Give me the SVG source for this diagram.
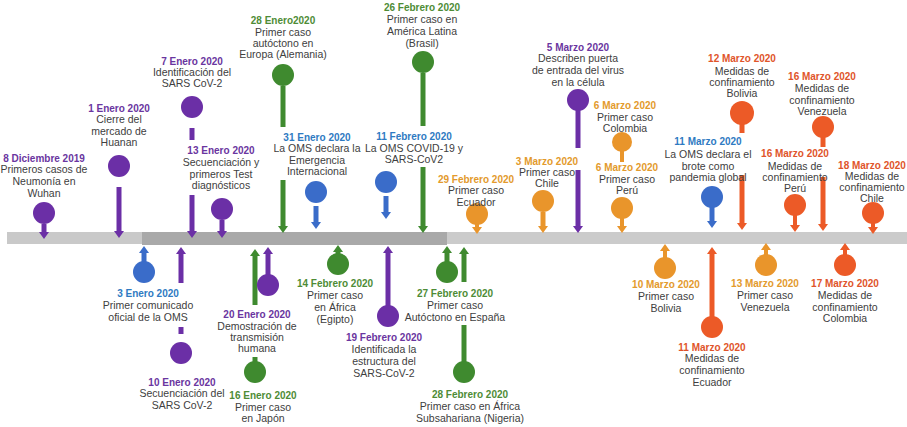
<svg xmlns="http://www.w3.org/2000/svg" width="907" height="427" viewBox="0 0 907 427">
<style>
.t{font-family:"Liberation Sans",Arial,sans-serif;font-size:10.5px;fill:#404040;text-anchor:middle}
.h{font-weight:bold;font-size:10px}
.hp{fill:#6a35a0}.hg{fill:#4e8c36}.hb{fill:#2e7ac2}.ho{fill:#e39a2c}.hr{fill:#e0542a}
.cp{fill:#6b2fa6}.cg{fill:#3f8a2f}.cb{fill:#3a6cc9}.co{fill:#e9952b}.cr{fill:#ec5a27}
.l{stroke-width:5;fill:none}.s{stroke-width:4}
.lp{stroke:#6b2fa6}.lg{stroke:#3f8a2f}.lb{stroke:#3a6cc9}.lo{stroke:#e9952b}.lr{stroke:#ec5a27}
</style>
<defs>
<marker id="mp" viewBox="0 0 7 10" markerWidth="7" markerHeight="10" refX="0" refY="5" orient="auto" markerUnits="userSpaceOnUse"><path d="M0,0L7,5L0,10z" fill="#6b2fa6"/></marker>
<marker id="mg" viewBox="0 0 7 10" markerWidth="7" markerHeight="10" refX="0" refY="5" orient="auto" markerUnits="userSpaceOnUse"><path d="M0,0L7,5L0,10z" fill="#3f8a2f"/></marker>
<marker id="mb" viewBox="0 0 7 10" markerWidth="7" markerHeight="10" refX="0" refY="5" orient="auto" markerUnits="userSpaceOnUse"><path d="M0,0L7,5L0,10z" fill="#3a6cc9"/></marker>
<marker id="mo" viewBox="0 0 7 10" markerWidth="7" markerHeight="10" refX="0" refY="5" orient="auto" markerUnits="userSpaceOnUse"><path d="M0,0L7,5L0,10z" fill="#e9952b"/></marker>
<marker id="mr" viewBox="0 0 7 10" markerWidth="7" markerHeight="10" refX="0" refY="5" orient="auto" markerUnits="userSpaceOnUse"><path d="M0,0L7,5L0,10z" fill="#ec5a27"/></marker>
</defs>
<rect width="907" height="427" fill="#ffffff"/>
<g id="timeline">
<rect x="7" y="232" width="135" height="12" fill="#c9c9c9"/>
<rect x="142" y="232" width="305" height="13" fill="#a9a9a9"/>
<rect x="447" y="232" width="460" height="12" fill="#cbcbcb"/>
</g>
<g id="connectors">
<line class="l lp" x1="44" y1="224" x2="44" y2="232" marker-end="url(#mp)"/>
<line class="l lp" x1="119" y1="187" x2="119" y2="231" marker-end="url(#mp)"/>
<line class="l lp" x1="192" y1="128" x2="192" y2="140"/>
<line class="l lp" x1="192" y1="195" x2="192" y2="231" marker-end="url(#mp)"/>
<line class="l lp" x1="222" y1="220" x2="222" y2="231" marker-end="url(#mp)"/>
<line class="l lg" x1="283" y1="86" x2="283" y2="127"/>
<line class="l lg" x1="283" y1="180" x2="283" y2="226" marker-end="url(#mg)"/>
<line class="l lb" x1="316" y1="206" x2="316" y2="222" marker-end="url(#mb)"/>
<line class="l lg" x1="423" y1="73" x2="423" y2="126"/>
<line class="l lg" x1="423" y1="167" x2="423" y2="226" marker-end="url(#mg)"/>
<line class="l lb" x1="386" y1="196" x2="386" y2="212" marker-end="url(#mb)"/>
<line class="l s lo" x1="477" y1="224" x2="477" y2="227" marker-end="url(#mo)"/>
<line class="l lo" x1="543" y1="212" x2="543" y2="226" marker-end="url(#mo)"/>
<line class="l lp" x1="578" y1="110" x2="578" y2="148"/>
<line class="l lp" x1="578" y1="170" x2="578" y2="226" marker-end="url(#mp)"/>
<line class="l s lo" x1="622" y1="150" x2="622" y2="162"/>
<line class="l s lo" x1="622" y1="218" x2="622" y2="226" marker-end="url(#mo)"/>
<line class="l lb" x1="712" y1="207" x2="712" y2="221" marker-end="url(#mb)"/>
<line class="l lr" x1="742" y1="124" x2="742" y2="133"/>
<line class="l lr" x1="742" y1="175" x2="742" y2="223" marker-end="url(#mr)"/>
<line class="l lr" x1="823" y1="137" x2="823" y2="147"/>
<line class="l lr" x1="823" y1="177" x2="823" y2="224" marker-end="url(#mr)"/>
<line class="l s lr" x1="795" y1="215" x2="795" y2="225" marker-end="url(#mr)"/>
<line class="l s lr" x1="873" y1="223" x2="873" y2="227" marker-end="url(#mr)"/>
<line class="l lb" x1="144" y1="262" x2="144" y2="253" marker-end="url(#mb)"/>
<line class="l lp" x1="181" y1="283" x2="181" y2="254" marker-end="url(#mp)"/>
<line class="l lp" x1="181" y1="327" x2="181" y2="334"/>
<line class="l lp" x1="268" y1="275" x2="268" y2="254" marker-end="url(#mp)"/>
<line class="l lg" x1="255" y1="305" x2="255" y2="256" marker-end="url(#mg)"/>
<line class="l lg" x1="255" y1="357" x2="255" y2="363"/>
<line class="l lg" x1="338" y1="254" x2="338" y2="252" marker-end="url(#mg)"/>
<line class="l lp" x1="388" y1="306" x2="388" y2="253" marker-end="url(#mp)"/>
<line class="l lg" x1="447" y1="262" x2="447" y2="253" marker-end="url(#mg)"/>
<line class="l lg" x1="464" y1="282" x2="464" y2="254" marker-end="url(#mg)"/>
<line class="l lg" x1="464" y1="325" x2="464" y2="362"/>
<line class="l s lo" x1="665" y1="258" x2="665" y2="251" marker-end="url(#mo)"/>
<line class="l lr" x1="712" y1="317" x2="712" y2="254" marker-end="url(#mr)"/>
<line class="l s lo" x1="766" y1="255" x2="766" y2="250" marker-end="url(#mo)"/>
<line class="l s lr" x1="845" y1="255" x2="845" y2="250" marker-end="url(#mr)"/>
</g>
<g id="e-8dic2019"><circle class="cp" cx="44" cy="213" r="11"/><text class="t"><tspan class="h hp" x="44" y="162">8 Diciembre 2019</tspan><tspan x="44" y="173">Primeros casos de</tspan><tspan x="44" y="185">Neumonía en</tspan><tspan x="44" y="197">Wuhan</tspan></text></g>
<g id="e-1ene2020"><circle class="cp" cx="119" cy="166" r="11"/><text class="t"><tspan class="h hp" x="119" y="112">1 Enero 2020</tspan><tspan x="119" y="123">Cierre del</tspan><tspan x="119" y="135">mercado de</tspan><tspan x="119" y="146">Huanan</tspan></text></g>
<g id="e-7ene2020"><circle class="cp" cx="192" cy="107" r="11"/><text class="t"><tspan class="h hp" x="192" y="65">7 Enero 2020</tspan><tspan x="192" y="76">Identificación del</tspan><tspan x="192" y="87">SARS CoV-2</tspan></text></g>
<g id="e-13ene2020"><circle class="cp" cx="222" cy="209" r="11"/><text class="t"><tspan class="h hp" x="221" y="154">13 Enero 2020</tspan><tspan x="221" y="166">Secuenciación y</tspan><tspan x="221" y="178">primeros Test</tspan><tspan x="221" y="189">diagnósticos</tspan></text></g>
<g id="e-28ene2020"><circle class="cg" cx="283" cy="75" r="11"/><text class="t"><tspan class="h hg" x="283" y="24">28 Enero2020</tspan><tspan x="283" y="36">Primer caso</tspan><tspan x="283" y="47">autóctono en</tspan><tspan x="283" y="58">Europa (Alemania)</tspan></text></g>
<g id="e-31ene2020"><circle class="cb" cx="316" cy="192" r="11"/><text class="t"><tspan class="h hb" x="317" y="141">31 Enero 2020</tspan><tspan x="317" y="152">La OMS declara la</tspan><tspan x="317" y="164">Emergencia</tspan><tspan x="317" y="175">Internacional</tspan></text></g>
<g id="e-26feb2020"><circle class="cg" cx="423" cy="62" r="11"/><text class="t"><tspan class="h hg" x="422" y="11">26 Febrero 2020</tspan><tspan x="422" y="23">Primer caso en</tspan><tspan x="422" y="35">América Latina</tspan><tspan x="422" y="47">(Brasil)</tspan></text></g>
<g id="e-11feb2020"><circle class="cb" cx="386" cy="182" r="11"/><text class="t"><tspan class="h hb" x="414" y="140">11 Febrero 2020</tspan><tspan x="414" y="152">La OMS COVID-19 y</tspan><tspan x="414" y="163">SARS-CoV2</tspan></text></g>
<g id="e-29feb2020"><circle class="co" cx="477" cy="214" r="11"/><text class="t"><tspan class="h ho" x="476" y="183">29 Febrero 2020</tspan><tspan x="476" y="194">Primer caso</tspan><tspan x="476" y="206">Ecuador</tspan></text></g>
<g id="e-3mar2020"><circle class="co" cx="543" cy="201" r="11"/><text class="t"><tspan class="h ho" x="547" y="165">3 Marzo 2020</tspan><tspan x="547" y="176">Primer caso</tspan><tspan x="547" y="187">Chile</tspan></text></g>
<g id="e-5mar2020"><circle class="cp" cx="578" cy="100" r="11"/><text class="t"><tspan class="h hp" x="578" y="51">5 Marzo 2020</tspan><tspan x="578" y="62">Describen puerta</tspan><tspan x="578" y="74">de entrada del virus</tspan><tspan x="578" y="86">en la célula</tspan></text></g>
<g id="e-6mar2020-col"><circle class="co" cx="622" cy="142" r="10"/><text class="t"><tspan class="h ho" x="625" y="109">6 Marzo 2020</tspan><tspan x="625" y="121">Primer caso</tspan><tspan x="625" y="132">Colombia</tspan></text></g>
<g id="e-6mar2020-per"><circle class="co" cx="622" cy="208" r="11"/><text class="t"><tspan class="h ho" x="627" y="171">6 Marzo 2020</tspan><tspan x="627" y="183">Primer caso</tspan><tspan x="627" y="194">Perú</tspan></text></g>
<g id="e-11mar2020-oms"><circle class="cb" cx="712" cy="197" r="11"/><text class="t"><tspan class="h hb" x="708" y="145">11 Marzo 2020</tspan><tspan x="708" y="158">La OMS declara el</tspan><tspan x="708" y="170">brote como</tspan><tspan x="708" y="181">pandemia global</tspan></text></g>
<g id="e-12mar2020"><circle class="cr" cx="742" cy="113" r="12"/><text class="t"><tspan class="h hr" x="742" y="62">12 Marzo 2020</tspan><tspan x="742" y="75">Medidas de</tspan><tspan x="742" y="86">confinamiento</tspan><tspan x="742" y="97">Bolivia</tspan></text></g>
<g id="e-16mar2020-ven"><circle class="cr" cx="823" cy="127" r="11"/><text class="t"><tspan class="h hr" x="822" y="80">16 Marzo 2020</tspan><tspan x="822" y="92">Medidas de</tspan><tspan x="822" y="104">confinamiento</tspan><tspan x="822" y="115">Venezuela</tspan></text></g>
<g id="e-16mar2020-per"><circle class="cr" cx="795" cy="205" r="11"/><text class="t"><tspan class="h hr" x="795" y="157">16 Marzo 2020</tspan><tspan x="795" y="170">Medidas de</tspan><tspan x="795" y="181">confinamiento</tspan><tspan x="795" y="192">Perú</tspan></text></g>
<g id="e-18mar2020"><circle class="cr" cx="873" cy="213" r="11"/><text class="t"><tspan class="h hr" x="872" y="169">18 Marzo 2020</tspan><tspan x="872" y="180">Medidas de</tspan><tspan x="872" y="191">confinamiento</tspan><tspan x="872" y="202">Chile</tspan></text></g>
<g id="e-3ene2020"><circle class="cb" cx="144" cy="272" r="11"/><text class="t"><tspan class="h hb" x="148" y="297">3 Enero 2020</tspan><tspan x="148" y="309">Primer comunicado</tspan><tspan x="148" y="321">oficial de la OMS</tspan></text></g>
<g id="e-10ene2020"><circle class="cp" cx="181" cy="353" r="11"/><text class="t"><tspan class="h hp" x="182" y="386">10 Enero 2020</tspan><tspan x="182" y="397">Secuenciación del</tspan><tspan x="182" y="409">SARS CoV-2</tspan></text></g>
<g id="e-20ene2020"><circle class="cp" cx="268" cy="285" r="11"/><text class="t"><tspan class="h hp" x="257" y="318">20 Enero 2020</tspan><tspan x="257" y="330">Demostración de</tspan><tspan x="257" y="341">transmisión</tspan><tspan x="257" y="352">humana</tspan></text></g>
<g id="e-16ene2020"><circle class="cg" cx="255" cy="372" r="11"/><text class="t"><tspan class="h hg" x="263" y="399">16 Enero 2020</tspan><tspan x="263" y="411">Primer caso</tspan><tspan x="263" y="422">en Japón</tspan></text></g>
<g id="e-14feb2020"><circle class="cg" cx="338" cy="264" r="11"/><text class="t"><tspan class="h hg" x="335" y="287">14 Febrero 2020</tspan><tspan x="335" y="299">Primer caso</tspan><tspan x="335" y="311">en África</tspan><tspan x="335" y="323">(Egipto)</tspan></text></g>
<g id="e-19feb2020"><circle class="cp" cx="388" cy="316" r="11"/><text class="t"><tspan class="h hp" x="384" y="341">19 Febrero 2020</tspan><tspan x="384" y="353">Identificada la</tspan><tspan x="384" y="365">estructura del</tspan><tspan x="384" y="377">SARS-CoV-2</tspan></text></g>
<g id="e-27feb2020"><circle class="cg" cx="447" cy="272" r="11"/><text class="t"><tspan class="h hg" x="455" y="297">27 Febrero 2020</tspan><tspan x="455" y="309">Primer caso</tspan><tspan x="455" y="321">Autóctono en España</tspan></text></g>
<g id="e-28feb2020"><circle class="cg" cx="464" cy="372" r="11"/><text class="t"><tspan class="h hg" x="470" y="398">28 Febrero 2020</tspan><tspan x="470" y="410">Primer caso en África</tspan><tspan x="470" y="422">Subsahariana (Nigeria)</tspan></text></g>
<g id="e-10mar2020"><circle class="co" cx="665" cy="268" r="11"/><text class="t"><tspan class="h ho" x="666" y="288">10 Marzo 2020</tspan><tspan x="666" y="300">Primer caso</tspan><tspan x="666" y="312">Bolivia</tspan></text></g>
<g id="e-11mar2020-ecu"><circle class="cr" cx="712" cy="327" r="11"/><text class="t"><tspan class="h hr" x="712" y="351">11 Marzo 2020</tspan><tspan x="712" y="362">Medidas de</tspan><tspan x="712" y="374">confinamiento</tspan><tspan x="712" y="386">Ecuador</tspan></text></g>
<g id="e-13mar2020"><circle class="co" cx="766" cy="265" r="11"/><text class="t"><tspan class="h ho" x="765" y="287">13 Marzo 2020</tspan><tspan x="765" y="299">Primer caso</tspan><tspan x="765" y="311">Venezuela</tspan></text></g>
<g id="e-17mar2020"><circle class="cr" cx="845" cy="265" r="11"/><text class="t"><tspan class="h hr" x="845" y="287">17 Marzo 2020</tspan><tspan x="845" y="299">Medidas de</tspan><tspan x="845" y="311">confinamiento</tspan><tspan x="845" y="322">Colombia</tspan></text></g>
</svg>
